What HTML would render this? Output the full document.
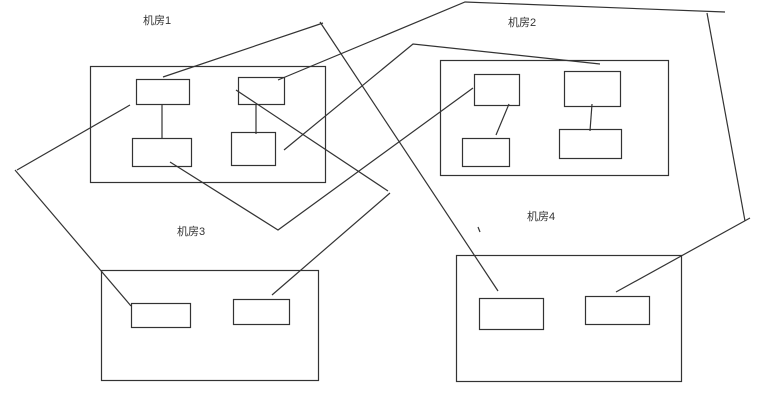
<!DOCTYPE html>
<html><head><meta charset="utf-8"><style>
html,body{margin:0;padding:0;background:#fff;}
svg{display:block;}
text{font-family:"Liberation Sans","Noto Sans CJK SC",sans-serif;font-size:11px;fill:#333;}
</style></head><body>
<svg width="778" height="411" viewBox="0 0 778 411" xmlns="http://www.w3.org/2000/svg">
<g fill="none" stroke="#333" stroke-width="1.2">
<!-- room1 -->
<rect x="90.5" y="66.5" width="235" height="116"/>
<rect x="136.5" y="79.5" width="53" height="25"/>
<rect x="238.5" y="77.5" width="46" height="27"/>
<rect x="132.5" y="138.5" width="59" height="28"/>
<rect x="231.5" y="132.5" width="44" height="33"/>
<line x1="162" y1="104" x2="162" y2="138"/>
<line x1="256" y1="104" x2="256" y2="134"/>
<!-- room2 -->
<rect x="440.5" y="60.5" width="228" height="115"/>
<rect x="474.5" y="74.5" width="45" height="31"/>
<rect x="564.5" y="71.5" width="56" height="35"/>
<rect x="462.5" y="138.5" width="47" height="28"/>
<rect x="559.5" y="129.5" width="62" height="29"/>
<line x1="509" y1="104" x2="496" y2="135"/>
<line x1="592" y1="104" x2="590" y2="131"/>
<!-- room3 -->
<rect x="101.5" y="270.5" width="217" height="110"/>
<rect x="131.5" y="303.5" width="59" height="24"/>
<rect x="233.5" y="299.5" width="56" height="25"/>
<!-- room4 -->
<rect x="456.5" y="255.5" width="225" height="126"/>
<rect x="479.5" y="298.5" width="64" height="31"/>
<rect x="585.5" y="296.5" width="64" height="28"/>
<!-- connectors -->
<polyline points="163,77 323,23"/>
<line x1="320" y1="22" x2="498" y2="291"/>
<polyline points="278,80 465,2 725,12"/>
<polyline points="707,13 745,221"/>
<line x1="750" y1="218" x2="616" y2="292"/>
<polyline points="284,150 413,44 600,64"/>
<polyline points="130,105 17,170"/>
<line x1="15" y1="170" x2="131" y2="306"/>
<polyline points="170,162 278,230 473,88"/>
<line x1="236" y1="90" x2="388" y2="191"/>
<line x1="390" y1="193" x2="272" y2="295"/>
<line x1="478" y1="227" x2="480" y2="232"/>
</g>
<text x="143" y="24">机房1</text>
<text x="508" y="26">机房2</text>
<text x="177" y="235">机房3</text>
<text x="527" y="220">机房4</text>
</svg>
</body></html>
